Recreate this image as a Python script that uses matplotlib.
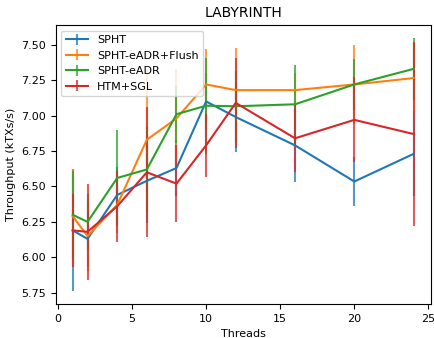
import numpy as np
import matplotlib
matplotlib.use("Agg")
from matplotlib import pyplot as plt

threads = [1, 2, 4, 6, 8, 10, 12, 16, 20, 24]

spht = [6.19, 6.13, 6.44, 6.54, 6.63, 7.10, 6.99, 6.79, 6.535, 6.73]
spht_err = [0.43, 0.20, 0.20, 0.30, 0.20, 0.20, 0.25, 0.26, 0.17, 0.30]

flush = [6.29, 6.15, 6.37, 6.83, 6.98, 7.22, 7.18, 7.18, 7.22, 7.265]
flush_err = [0.33, 0.25, 0.20, 0.50, 0.35, 0.25, 0.30, 0.12, 0.28, 0.25]

eadr = [6.30, 6.25, 6.56, 6.62, 7.01, 7.07, 7.066, 7.08, 7.22, 7.33]
eadr_err = [0.31, 0.20, 0.34, 0.30, 0.20, 0.34, 0.25, 0.28, 0.18, 0.22]

htm = [6.19, 6.18, 6.36, 6.60, 6.52, 6.79, 7.09, 6.84, 6.97, 6.87]
htm_err = [0.26, 0.34, 0.25, 0.46, 0.27, 0.22, 0.32, 0.24, 0.30, 0.65]

series = [
    ("SPHT", spht, spht_err),
    ("SPHT-eADR+Flush", flush, flush_err),
    ("SPHT-eADR", eadr, eadr_err),
    ("HTM+SGL", htm, htm_err),
]

fig = plt.figure(figsize=(4.35, 3.38), dpi=100)
ax = fig.add_axes([0.128, 0.1006, 0.862, 0.8254])

for label, vals, err in series:
    cont = ax.errorbar(threads, vals, yerr=err, label=label)
    # error bars are slightly see-through
    for bars in cont[2]:
        bars.set_alpha(0.75)

ax.set_title("LABYRINTH", fontsize=10)
ax.set_xlabel("Threads", fontsize=8)
ax.set_ylabel("Throughput (kTXs/s)", fontsize=8)
ax.tick_params(labelsize=8)
ax.legend(loc="upper left", fontsize=8)

fig.savefig("out.png", dpi=100)
